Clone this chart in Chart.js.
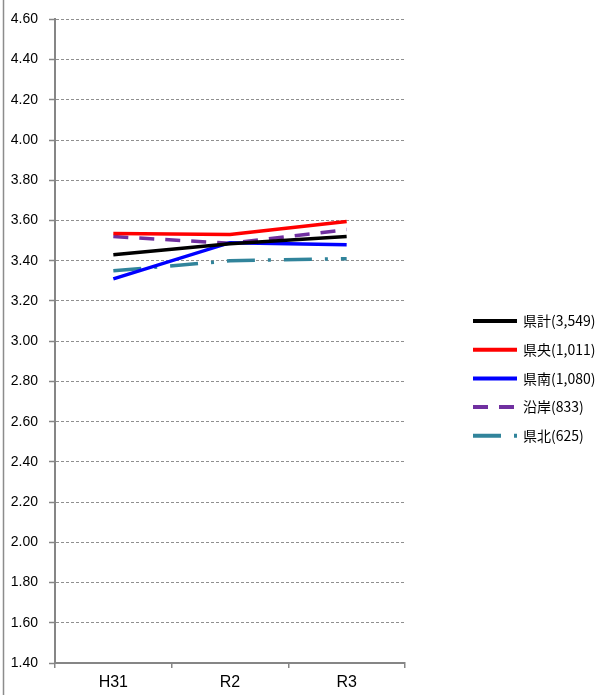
<!DOCTYPE html>
<html>
<head>
<meta charset="utf-8">
<script src="https://cdn.jsdelivr.net/npm/chart.js@4/dist/chart.umd.min.js"></script>
<style>
    html, body { margin: 0; padding: 0; background: #fff; }
    #wrap { position: relative; width: 602px; height: 695px; }
</style>
</head>
<body>
<div id="wrap"><canvas id="avgChart"></canvas></div>
<script>
// Categories and series
const years = ['H31', 'R2', 'R3'];
const seriesNames = ['県計(3,549)', '県央(1,011)', '県南(1,080)', '沿岸(833)', '県北(625)'];
const kenkei  = [3.43, 3.485, 3.52];
const kenou   = [3.535, 3.53, 3.595];
const kennan  = [3.31, 3.49, 3.48];
const engan   = [3.52, 3.487, 3.555];
const kenhoku = [3.35, 3.40, 3.41];

// Y axis tick range
const yMin = 1.4;
const yMax = 4.6;
const yStep = 0.2;

// Legend drawn at the right side, like the Excel original
const sideLegend = {
    id: 'sideLegend',
    afterDraw(chart) {
        const ctx = chart.ctx;
        ctx.save();
        // outer frame line on the left edge
        ctx.strokeStyle = '#8c8c8c';
        ctx.lineWidth = 1.5;
        ctx.beginPath();
        ctx.moveTo(3.5, 0);
        ctx.lineTo(3.5, chart.height);
        ctx.stroke();

        chart.data.datasets.forEach((ds, i) => {
            const y = 321 + i * 28.7;
            ctx.strokeStyle = ds.borderColor;
            ctx.lineWidth = 4;
            ctx.setLineDash(ds.borderDash || []);
            ctx.beginPath();
            ctx.moveTo(473, y);
            ctx.lineTo(517, y);
            ctx.stroke();
            ctx.setLineDash([]);
            ctx.fillStyle = '#000';
            ctx.font = '14px "Noto Sans CJK JP"';
            ctx.textBaseline = 'middle';
            ctx.textAlign = 'left';
            ctx.fillText(ds.label, 523, y);
        });
        ctx.restore();
    }
};

const makeSet = (label, data, color, dash) => ({
    label: label,
    data: data,
    borderColor: color,
    backgroundColor: color,
    borderWidth: 3.5,
    borderDash: dash,
    borderCapStyle: 'butt',
    pointRadius: 0,
    tension: 0,
    fill: false
});

const ctx = document.getElementById('avgChart').getContext('2d');
new Chart(ctx, {
    type: 'line',
    data: {
        labels: years,
        datasets: [
            makeSet(seriesNames[0], kenkei, '#000000', []),
            makeSet(seriesNames[1], kenou, '#ff0000', []),
            makeSet(seriesNames[2], kennan, '#0000ff', []),
            makeSet(seriesNames[3], engan, '#7030a0', [15, 11]),
            makeSet(seriesNames[4], kenhoku, '#31849b', [28, 13, 3, 13])
        ]
    },
    options: {
        responsive: true,
        maintainAspectRatio: false,
        animation: false,
        layout: { padding: { top: 19, right: 197, bottom: 0, left: 0 } },
        plugins: {
            legend: { display: false },
            tooltip: { enabled: false }
        },
        scales: {
            x: {
                offset: true,
                afterFit: s => { s.height = 32; },
                grid: {
                    offset: true,
                    drawOnChartArea: false,
                    drawTicks: true,
                    tickLength: 5,
                    color: '#868686',
                    lineWidth: 1.5
                },
                border: { color: '#868686', width: 2 },
                ticks: {
                    color: '#000',
                    padding: 5,
                    font: { family: '"Liberation Sans", Arial, sans-serif', size: 16 }
                }
            },
            y: {
                min: yMin,
                max: yMax,
                afterFit: s => { s.width = 55; },
                grid: {
                    color: '#8f8f8f',
                    lineWidth: 1,
                    drawTicks: true,
                    tickLength: 6,
                    tickColor: '#868686',
                    tickWidth: 1.5
                },
                border: { color: '#868686', width: 2, dash: [3, 2] },
                ticks: {
                    stepSize: yStep,
                    color: '#000',
                    padding: 11,
                    font: { family: '"Liberation Sans", Arial, sans-serif', size: 14 },
                    callback: v => Number(v).toFixed(2)
                }
            }
        }
    },
    plugins: [sideLegend]
});
</script>
</body>
</html>
